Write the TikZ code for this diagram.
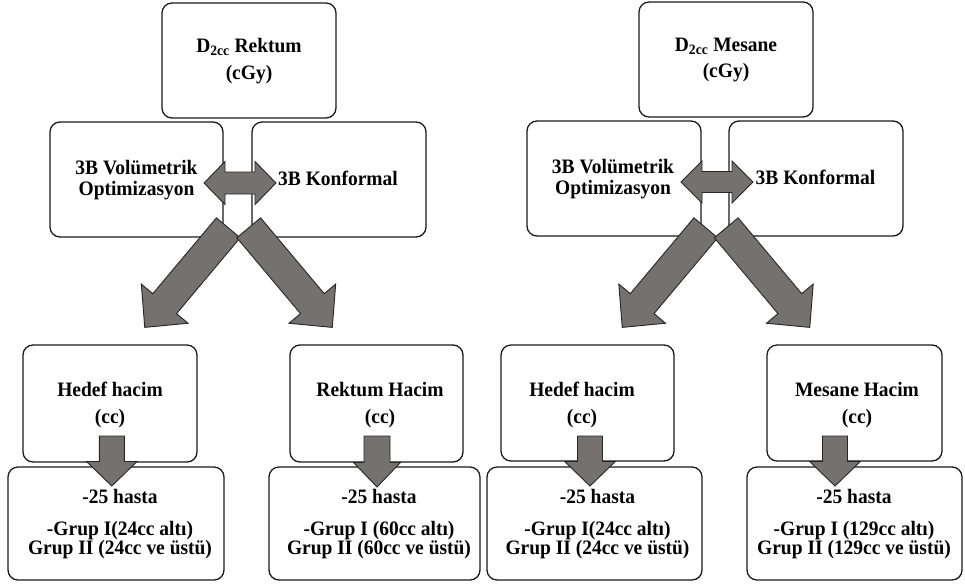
\documentclass[tikz,border=0pt]{standalone}
\usepackage{fontspec}
\setmainfont{Liberation Serif}[FakeStretch=0.95]
\definecolor{arrgray}{RGB}{118,113,113}
\newcommand\blockarr[7]{% back centre x, y, canvas angle, length, shaft width, head width, head length
  \begin{scope}[shift={(#1,#2)},rotate=#3]
    \draw[arr] (0,{-#5/2}) -- ({#4-#7},{-#5/2}) -- ({#4-#7},{-#6/2}) -- (#4,0)
      -- ({#4-#7},{#6/2}) -- ({#4-#7},{#5/2}) -- (0,{#5/2}) -- cycle;
  \end{scope}}
\newcommand\dblarr[6]{% left tip x, right tip x, centre y, head length, shaft half, head half
  \draw[arr] (#1,#3) -- ({#1+#4},{#3-#6}) -- ({#1+#4},{#3-#5}) -- ({#2-#4},{#3-#5})
    -- ({#2-#4},{#3-#6}) -- (#2,#3) -- ({#2-#4},{#3+#6}) -- ({#2-#4},{#3+#5})
    -- ({#1+#4},{#3+#5}) -- ({#1+#4},{#3+#6}) -- cycle;}
\begin{document}
\begin{tikzpicture}[x=1pt,y=-1pt,
  box/.style={draw=black!90, line width=1.3pt, rounded corners=10pt, fill=white, inner sep=0pt},
  txt/.style={font=\bfseries\fontsize{20.5}{21}\selectfont, align=center, inner sep=0pt},
  arr/.style={fill=arrgray, draw=black!85, line width=0.9pt, line join=miter}]
\useasboundingbox (0,0) rectangle (965,584);
% ---------- left group ----------
\node[box, minimum width=174pt, minimum height=115pt] (l1) at (249,60.5) {};
\node[box, minimum width=173pt, minimum height=115pt] (l2) at (136.5,179.5) {};
\node[box, minimum width=174pt, minimum height=115pt] (l3) at (339,179.5) {};
\node[box, minimum width=174pt, minimum height=117pt] (b1) at (110,403.5) {};
\node[box, minimum width=216pt, minimum height=113pt] (b1b) at (116,523.5) {};
\node[box, minimum width=173pt, minimum height=117pt] (b2) at (376.5,403.5) {};
\node[box, minimum width=211pt, minimum height=113pt] (b2b) at (374.5,523.5) {};
% ---------- right group ----------
\node[box, minimum width=174pt, minimum height=115pt] (r1) at (726,59.5) {};
\node[box, minimum width=174pt, minimum height=115pt] (r2) at (614,178.5) {};
\node[box, minimum width=174pt, minimum height=115pt] (r3) at (816,178.5) {};
\node[box, minimum width=173pt, minimum height=116pt] (b3) at (587.5,403) {};
\node[box, minimum width=215pt, minimum height=113pt] (b3b) at (594.5,523.5) {};
\node[box, minimum width=175pt, minimum height=116pt] (b4) at (854.5,403) {};
\node[box, minimum width=215pt, minimum height=113pt] (b4b) at (854.5,523.5) {};
% ---------- texts ----------
\node[txt] (l1t) at (249,61) {D\textsubscript{2cc} Rektum\\[5.5pt](cGy)};
\node[txt] (l2t) at (136.5,180) {3B Volümetrik\\Optimizasyon};
\node[txt] (l3t) at (338,178.5) {3B Konformal};
\node[txt] (b1t) at (110,405) {Hedef hacim\\[6pt](cc)};
\node[txt] (b1bt) at (120,524) {-25 hasta\\[11pt]-Grup I(24cc altı)\\[-2pt]Grup II (24cc ve üstü)};
\node[txt] (b2t) at (380,405) {Rektum Hacim\\[6pt](cc)};
\node[txt] (b2bt) at (379,524) {-25 hasta\\[11pt]-Grup I (60cc altı)\\[-2pt]Grup II (60cc ve üstü)};
\node[txt] (r1t) at (726,60) {D\textsubscript{2cc} Mesane\\[5.5pt](cGy)};
\node[txt] (r2t) at (613,179) {3B Volümetrik\\Optimizasyon};
\node[txt] (r3t) at (815.5,177.5) {3B Konformal};
\node[txt] (b3t) at (582,405) {Hedef hacim\\[6pt](cc)};
\node[txt] (b3bt) at (597.5,524) {-25 hasta\\[11pt]-Grup I(24cc altı)\\[-2pt]Grup II (24cc ve üstü)};
\node[txt] (b4t) at (857,405) {Mesane Hacim\\[6pt](cc)};
\node[txt] (b4bt) at (854,524) {-25 hasta\\[11pt]-Grup I (129cc altı)\\[-2pt]Grup II (129cc ve üstü)};
% ---------- block arrows ----------
\dblarr{204}{276}{183}{21}{11}{21.5}
\dblarr{681}{753}{182}{21}{10.5}{21}
\blockarr{228.3}{227.8}{230}{130}{31}{61}{31}
\blockarr{248.7}{227.8}{310}{130}{31}{61}{31}
\blockarr{705.8}{227.8}{230}{130}{31}{61}{31}
\blockarr{726.2}{227.8}{310}{130}{31}{61}{31}
\blockarr{111.8}{436}{270}{50}{25}{50.6}{24.5}
\blockarr{377}{436}{270}{51}{26}{47}{24.5}
\blockarr{590}{436}{270}{50}{25}{50.6}{24.5}
\blockarr{835}{436}{270}{50}{25}{50.6}{24.5}
\end{tikzpicture}
\end{document}
